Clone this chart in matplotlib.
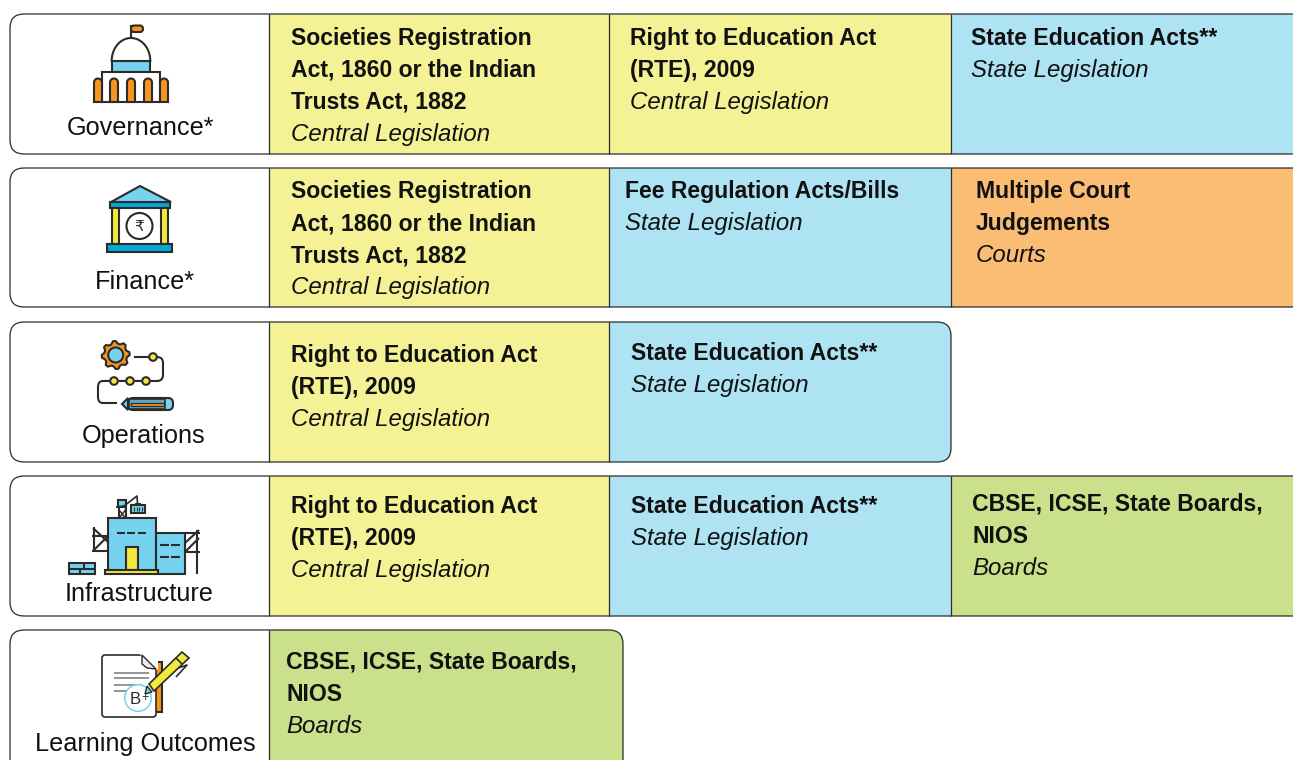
import numpy as np
import matplotlib
matplotlib.use("Agg")
import matplotlib.pyplot as plt
from matplotlib.patches import Rectangle, FancyBboxPatch, Circle, Polygon
from matplotlib.path import Path
from matplotlib.patches import PathPatch

plt.rcParams["font.family"] = ["Liberation Sans", "DejaVu Sans"]

YELLOW = "#f5f295"
BLUE = "#aee3f3"
ORANGE = "#fbbd74"
GREEN = "#cbe08a"
INK = "#2b2b2b"
I_ORANGE = "#f7941d"
I_BLUE = "#76d3ef"
I_YELLOW = "#f3e83c"
I_DEEP = "#00a9d6"

SOC = ["Societies Registration", "Act, 1860 or the Indian", "Trusts Act, 1882"]
RTE = ["Right to Education Act", "(RTE), 2009"]
SEA = ["State Education Acts**"]
FEE = ["Fee Regulation Acts/Bills"]
MCJ = ["Multiple Court", "Judgements"]
CBSE = ["CBSE, ICSE, State Boards,", "NIOS"]
CEN = "Central Legislation"
STA = "State Legislation"
CRT = "Courts"
BRD = "Boards"

row_names = ["Governance*", "Finance*", "Operations", "Infrastructure", "Learning Outcomes"]
row_cells = [
    [(SOC, CEN, YELLOW), (RTE, CEN, YELLOW), (SEA, STA, BLUE)],
    [(SOC, CEN, YELLOW), (FEE, STA, BLUE), (MCJ, CRT, ORANGE)],
    [(RTE, CEN, YELLOW), (SEA, STA, BLUE)],
    [(RTE, CEN, YELLOW), (SEA, STA, BLUE), (CBSE, BRD, GREEN)],
    [(CBSE, BRD, GREEN)],
]

# layout in reference pixels
row_tops = [14, 168, 322, 476, 630]
row_bots = [154, 307, 462, 616, 800]
row_right = [1330, 1330, 951, 1330, 623]
col_edges = [269, 609, 951, 1330]
label_x = [140, 145, 143.5, 139, 145]
label_y = [128, 282, 436, 594, 744]
text_x = [[291, 630, 971], [291, 625, 976], [291, 631], [291, 631, 972], [286]]
text_y = [[38.5, 38.5, 38.5], [191.5, 191.5, 191.5], [355.5, 353.5], [506.5, 506.5, 504.5], [662.5]]
LINE = 32
FS_BOLD = 16.6
FS_ITAL = 17.3
FS_LABEL = 18.2
ICON_LW = 1.5

fig = plt.figure(figsize=(12.93, 7.6), dpi=100)
ax = fig.add_axes([0, 0, 1, 1])
ax.set_xlim(0, 1293)
ax.set_ylim(760, 0)
ax.axis("off")


def rect(x0, y0, x1, y1, fc, lw=ICON_LW, ec=INK, z=5):
    ax.add_patch(Rectangle((x0, y0), x1 - x0, y1 - y0, fc=fc, ec=ec, lw=lw, zorder=z))


def line(xs, ys, lw=ICON_LW, z=6, c=INK):
    ax.plot(xs, ys, color=c, lw=lw, zorder=z, solid_capstyle="butt")


def arch(x0, x1, top, bot, fc):
    r = (x1 - x0) / 2
    t = np.linspace(np.pi, 0, 20)
    xs = np.r_[x0, x0 + r + r * np.cos(t), x1]
    ys = np.r_[bot, top + r - r * np.sin(t), bot]
    ax.add_patch(Polygon(np.c_[xs, ys], fc=fc, ec=INK, lw=ICON_LW, zorder=6))


def icon_governance():
    line([131, 131], [25, 38])
    ax.add_patch(FancyBboxPatch((131, 25.5), 12, 6.5, boxstyle="round,pad=0,rounding_size=3", fc=I_ORANGE, ec=INK, lw=ICON_LW, zorder=6))
    t = np.linspace(np.pi, 0, 40)
    ax.add_patch(Polygon(np.c_[131 + 19.3 * np.cos(t), 61 - 23 * np.sin(t)], fc="white", ec=INK, lw=ICON_LW, zorder=6))
    rect(112, 61, 150, 71.5, I_BLUE)
    rect(102, 71.5, 160, 102, "white")
    for x0, x1 in [(94, 102), (110, 118), (127, 135), (144, 152), (160, 168)]:
        arch(x0, x1, 78.5, 102, I_ORANGE)


def icon_finance():
    ax.add_patch(Polygon([(111, 202), (140, 186), (171, 202)], fc=I_BLUE, ec=INK, lw=ICON_LW, zorder=6))
    rect(110, 202, 170, 208, I_DEEP)
    rect(112, 208, 119, 244, I_YELLOW)
    rect(161, 208, 168, 244, I_YELLOW)
    rect(107, 244, 172, 252, I_DEEP)
    ax.add_patch(Circle((139.5, 226), 13, fc="white", ec=INK, lw=ICON_LW, zorder=6))
    ax.text(139.5, 226.5, "\u20b9", family="DejaVu Sans", fontsize=11, ha="center", va="center", color=INK, zorder=7)


def icon_operations():
    n = 8
    a = np.linspace(0, 2 * np.pi, n * 4, endpoint=False)
    r = np.where(np.arange(n * 4) % 4 < 2, 14, 11.5)
    a = a - np.pi / n / 2
    ax.add_patch(Polygon(np.c_[115.7 + r * np.cos(a), 355 + r * np.sin(a)], fc=I_ORANGE, ec=INK, lw=ICON_LW, zorder=6))
    ax.add_patch(Circle((115.7, 355), 7.5, fc=I_BLUE, ec=INK, lw=ICON_LW, zorder=7))
    verts = [(134, 357), (157, 357), (163, 357), (163, 363), (163, 375), (163, 381), (157, 381),
             (103, 381), (98, 381), (98, 387), (98, 397), (98, 403), (103, 403), (117, 403)]
    codes = [Path.MOVETO, Path.LINETO, Path.CURVE3, Path.CURVE3, Path.LINETO, Path.CURVE3, Path.CURVE3,
             Path.LINETO, Path.CURVE3, Path.CURVE3, Path.LINETO, Path.CURVE3, Path.CURVE3, Path.LINETO]
    ax.add_patch(PathPatch(Path(verts, codes), fc="none", ec=INK, lw=ICON_LW, zorder=6))
    for x, y in [(153, 357), (114, 381), (130, 381), (146, 381)]:
        ax.add_patch(Circle((x, y), 3.8, fc=I_YELLOW, ec=INK, lw=ICON_LW, zorder=7))
    # pencil
    ax.add_patch(Polygon([(122, 404), (128, 398), (128, 410)], fc=I_BLUE, ec=INK, lw=ICON_LW, zorder=6))
    ax.add_patch(FancyBboxPatch((128, 398), 45, 12, boxstyle="round,pad=0,rounding_size=5", fc=I_BLUE, ec=INK, lw=ICON_LW, zorder=6))
    rect(129, 399, 165, 409, "#5aa9c4", lw=1.2, z=7)
    rect(131, 402.5, 164, 405.5, I_ORANGE, lw=0.9, z=8)


def icon_infrastructure():
    rect(108, 518, 156, 571, I_BLUE)
    rect(156, 533, 185, 574, I_BLUE)
    rect(126, 547, 138, 570, I_YELLOW)
    rect(105, 570, 158, 574, I_YELLOW)
    for x0 in (117, 127, 138):
        line([x0, x0 + 8], [533, 533])
    for y in (545, 557):
        for x0 in (160, 171):
            line([x0, x0 + 9], [y, y])
    # bricks
    rect(69, 563, 95, 574, I_BLUE)
    line([69, 95], [568.5, 568.5])
    line([84, 84], [563, 568.5])
    line([80, 80], [568.5, 574])
    # scaffolds
    line([94, 94], [527, 552])
    line([92, 108], [536, 536])
    line([92, 108], [551, 551])
    line([93, 108], [528, 542])
    line([93, 108], [551, 536])
    line([197, 197], [530, 574])
    line([185, 200], [533, 533])
    line([185, 200], [552, 552])
    line([185, 199], [552, 538])
    line([185, 199], [543, 530])
    # crane
    rect(118, 500, 126, 507, I_BLUE)
    line([119, 119], [507, 518])
    line([125.5, 125.5], [507, 518])
    line([119, 125.5], [510, 518], lw=1.1)
    line([119, 125.5], [518, 510], lw=1.1)
    line([116, 124, 137, 137.5], [507, 506, 496, 504], lw=1.2)
    rect(135, 502.5, 140, 505, "#a08a2c", lw=0.8)
    rect(131, 505, 144.5, 513, I_BLUE)
    for x in (134, 136.5, 139, 141.5):
        line([x, x], [507, 511], lw=0.8, z=7)


def icon_learning():
    rect(152, 662, 162, 712, I_ORANGE)
    ax.add_patch(FancyBboxPatch((102, 655), 54, 62, boxstyle="round,pad=0,rounding_size=3", fc="white", ec=INK, lw=1.2, zorder=6))
    ax.add_patch(Polygon([(141, 654), (157, 654), (157, 669)], fc="white", ec="white", lw=1.5, zorder=6))
    ax.add_patch(Polygon([(142, 655), (156, 669), (147, 668), (142, 664)], fc="#eeeeee", ec=INK, lw=1.0, zorder=6))
    for y, x1 in [(673, 149), (678, 149), (685, 142), (691, 133)]:
        line([114, x1], [y, y], lw=1.1, c="#777777")
    ax.add_patch(Circle((138, 698), 13.3, fc="white", ec=I_BLUE, lw=1.1, zorder=7))
    ax.text(135, 699, "B", fontsize=12, ha="center", va="center", color=INK, zorder=8)
    ax.text(145, 698, "+", fontsize=9, ha="center", va="center", color=INK, zorder=8)
    # pen
    ax.add_patch(Polygon([(145, 694), (147, 686), (152, 692)], fc=I_BLUE, ec=INK, lw=1.0, zorder=9))
    ax.add_patch(Polygon([(149, 684), (182, 652), (189, 658), (154, 691)], fc=I_YELLOW, ec=INK, lw=1.2, zorder=9))
    line([175, 187, 176], [669, 665, 677], lw=1.2, z=8)
    line([176, 182], [658, 664], lw=1.2, z=10)


for i, name in enumerate(row_names):
    top, bot, right = row_tops[i], row_bots[i], row_right[i]
    box = FancyBboxPatch((10, top), right - 10, bot - top, boxstyle="round,pad=0,rounding_size=14",
                         fc="white", ec="none", zorder=1)
    ax.add_patch(box)
    for j, (lines, kind, colour) in enumerate(row_cells[i]):
        x0, x1 = col_edges[j], min(col_edges[j + 1], right) if i < 4 else right
        r = Rectangle((x0, top), x1 - x0, bot - top, fc=colour, ec="none", zorder=2)
        ax.add_patch(r)
        r.set_clip_path(box)
        line([x0, x0], [top, bot], lw=0.9, z=3)
        y = text_y[i][j]
        for k, s in enumerate(lines):
            ax.text(text_x[i][j], y + k * LINE, s, fontsize=FS_BOLD, fontweight="bold", va="center", color="#111111", zorder=4)
        ax.text(text_x[i][j], y + len(lines) * LINE, kind, fontsize=FS_ITAL, style="italic", va="center", color="#111111", zorder=4)
    ax.add_patch(FancyBboxPatch((10, top), right - 10, bot - top, boxstyle="round,pad=0,rounding_size=14",
                                fc="none", ec=INK, lw=0.9, zorder=3))
    ax.text(label_x[i], label_y[i], name, fontsize=FS_LABEL, ha="center", va="center", color="#111111", zorder=4)

icon_governance()
icon_finance()
icon_operations()
icon_infrastructure()
icon_learning()

fig.savefig("out.png", dpi=100)
